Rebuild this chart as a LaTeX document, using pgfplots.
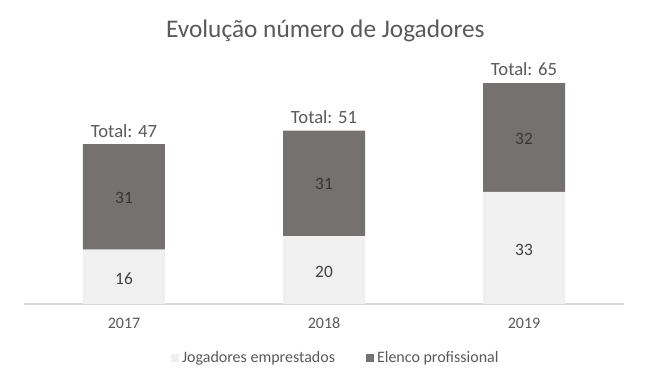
\documentclass[border=0pt]{standalone}
\usepackage{pgfplots}
\pgfplotsset{compat=1.18}
\usepackage{fontspec}
\setmainfont{Carlito}
\definecolor{darkbar}{HTML}{767171}
\definecolor{lightbar}{HTML}{F0F0F0}
\definecolor{txt}{HTML}{595959}
\definecolor{lbl}{HTML}{404040}
\definecolor{lbldark}{HTML}{3A3535}
\definecolor{lineg}{HTML}{D9D9D9}
\begin{document}
\begin{tikzpicture}
\useasboundingbox (0pt,0pt) rectangle (485.25pt,-291pt);
\node[text=txt, font=\fontsize{19}{22}\selectfont] at (244pt,-23pt) {Evolução número de Jogadores};
\begin{axis}[
  at={(18pt,-228pt)}, anchor=south west,
  scale only axis, width=450pt, height=178.5pt,
  xmin=-0.5, xmax=2.5, ymin=0, ymax=70,
  clip=false,
  ybar stacked, bar width=61.5pt,
  axis x line*=bottom, axis y line=none,
  x axis line style={draw=lineg, line width=0.8pt, -},
  xtick={0,1,2}, xticklabels={2017,2018,2019},
  major tick length=0pt,
  xticklabel style={text=txt, font=\fontsize{12}{14}\selectfont, yshift=-7pt},
  legend style={at={(0.52,-0.227)}, anchor=center, legend columns=2, draw=none,
    fill=none, font=\fontsize{12}{14}\selectfont, text=txt,
    /tikz/every even column/.append style={column sep=21pt}},
  legend image code/.code={\fill[#1] (0pt,-3.2pt) rectangle (6.5pt,3.3pt);},
]
\addplot[fill=lightbar, draw=none] coordinates {(0,16) (1,20) (2,33)};
\addlegendentry{Jogadores emprestados}
\addplot[fill=darkbar, draw=none] coordinates {(0,31) (1,31) (2,32)};
\addlegendentry{Elenco profissional}
\end{axis}
\begin{axis}[
  at={(18pt,-228pt)}, anchor=south west,
  scale only axis, width=450pt, height=178.5pt,
  xmin=-0.5, xmax=2.5, ymin=0, ymax=70,
  clip=false, hide axis,
  nodes near coords, point meta=explicit symbolic,
  every node near coord/.append style={anchor=center, font=\fontsize{13}{15}\selectfont},
]
\addplot[draw=none, mark=none, every node near coord/.append style={text=lbl}] table[meta=lab] {
x y lab
0 7.3 16
1 9.4 20
2 16 33
};
\addplot[draw=none, mark=none, every node near coord/.append style={text=lbldark}] table[meta=lab] {
x y lab
0 31.3 31
1 35.3 31
2 48.5 32
};
\addplot[draw=none, mark=none, every node near coord/.append style={text=txt, font=\fontsize{14}{16}\selectfont}] table[meta=lab] {
x y lab
0 51 {Total: 47}
1 55 {Total: 51}
2 69 {Total: 65}
};
\end{axis}
\end{tikzpicture}
\end{document}
